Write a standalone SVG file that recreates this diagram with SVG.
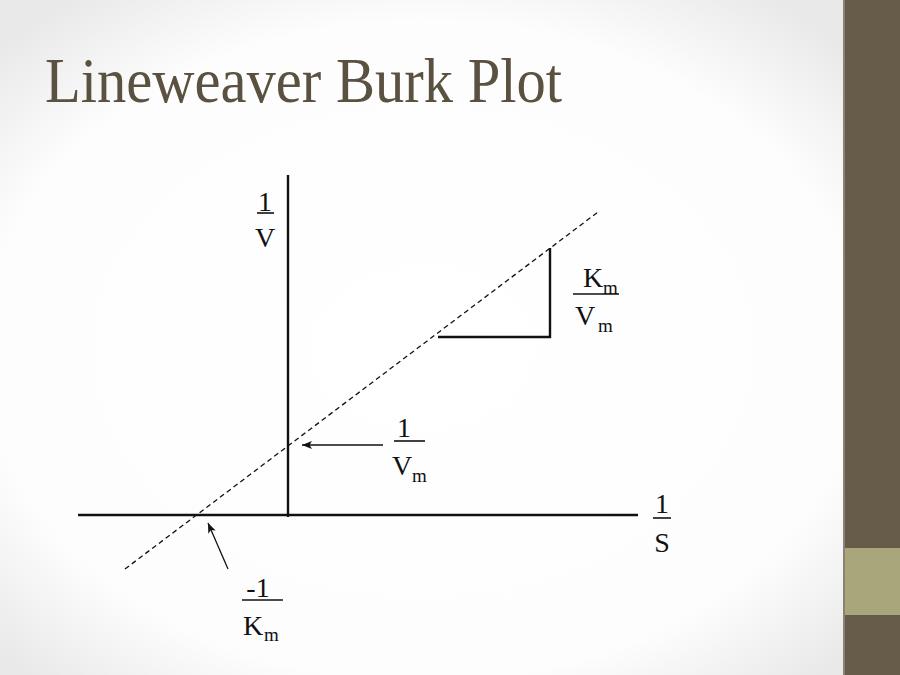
<svg xmlns="http://www.w3.org/2000/svg" width="900" height="675" viewBox="0 0 900 675">
<defs>
<radialGradient id="bg" cx="0.47" cy="0.52" r="0.65">
<stop offset="0" stop-color="#ffffff"/>
<stop offset="0.75" stop-color="#fdfdfd"/>
<stop offset="1" stop-color="#e9e9e9"/>
</radialGradient>
<marker id="ah" viewBox="0 0 10 8" refX="10" refY="4" markerWidth="10" markerHeight="8" markerUnits="userSpaceOnUse" orient="auto">
<path d="M0,0 L10,4 L0,8 L2.5,4 Z" fill="#111"/>
</marker>
<style>
.ax{stroke:#111;stroke-width:2.4;fill:none}
.dash{stroke:#111;stroke-width:1.3;stroke-dasharray:5 3.5;fill:none}
.thin{stroke:#111;stroke-width:1.3;fill:none}
.bar{stroke:#111;stroke-width:1.6}
.lbl{font-family:"Liberation Serif","Times New Roman",serif;font-size:28px;fill:#111;text-anchor:middle}
.sub{font-family:"Liberation Serif","Times New Roman",serif;font-size:19px;fill:#111}
.title{font-family:"Liberation Serif","Times New Roman",serif;font-size:63px;fill:#5a5140}
</style>
</defs>
<rect x="0" y="0" width="900" height="675" fill="url(#bg)"/>
<g id="sidebar">
<rect x="843" y="0" width="2" height="675" fill="#8a8272"/>
<rect x="845" y="0" width="55" height="675" fill="#665c49"/>
<rect x="845" y="548" width="55" height="67" fill="#a9a67b"/>
</g>
<text id="title" class="title" x="45" y="102" textLength="517" lengthAdjust="spacingAndGlyphs">Lineweaver Burk Plot</text>
<g id="connectors">
<line id="y-axis" class="ax" x1="288" y1="175" x2="288" y2="517"/>
<line id="x-axis" class="ax" x1="78" y1="515" x2="638" y2="515"/>
<line id="fit-line" class="dash" x1="125" y1="569" x2="598" y2="212"/>
<polyline id="slope-triangle" class="ax" points="550,248 550,337 438,337"/>
<line id="arrow-vm" class="thin" x1="383" y1="445" x2="302" y2="445" marker-end="url(#ah)"/>
<line id="arrow-km" class="thin" x1="228" y1="569" x2="208" y2="523" marker-end="url(#ah)"/>
</g>
<g id="label-1-over-V">
<text class="lbl" x="265" y="211">1</text>
<line class="bar" x1="257" y1="213" x2="274" y2="213"/>
<text class="lbl" x="265" y="247">V</text>
</g>
<g id="label-Km-over-Vm">
<text class="lbl" x="593" y="287">K</text>
<text class="sub" x="603" y="294">m</text>
<line class="bar" x1="573" y1="294" x2="619" y2="294"/>
<text class="lbl" x="585" y="325">V</text>
<text class="sub" x="598" y="332">m</text>
</g>
<g id="label-1-over-Vm">
<text class="lbl" x="404" y="437">1</text>
<line class="bar" x1="394" y1="441" x2="425" y2="441"/>
<text class="lbl" x="402" y="475">V</text>
<text class="sub" x="412" y="482">m</text>
</g>
<g id="label-1-over-S">
<text class="lbl" x="662" y="513">1</text>
<line class="bar" x1="653" y1="518" x2="671" y2="518"/>
<text class="lbl" x="662" y="552">S</text>
</g>
<g id="label-neg1-over-Km">
<text class="lbl" x="258" y="597">-1</text>
<line class="bar" x1="242" y1="600" x2="283" y2="600"/>
<text class="lbl" x="253" y="635">K</text>
<text class="sub" x="264" y="641">m</text>
</g>
</svg>
